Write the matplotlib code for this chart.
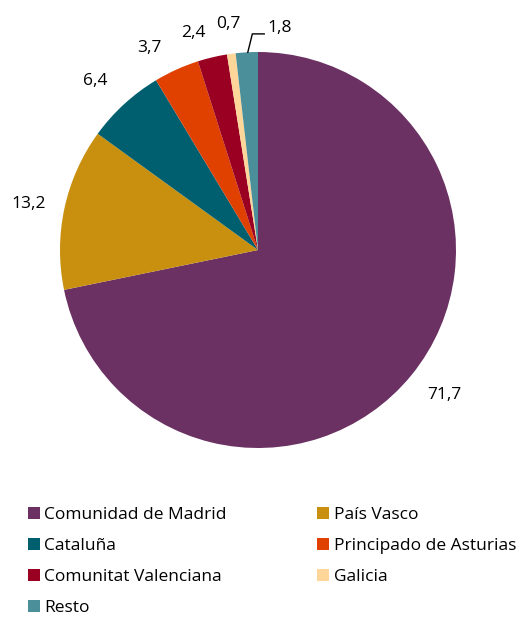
import numpy as np
import matplotlib.pyplot as plt
from matplotlib.patches import Patch

plt.rcParams['font.family'] = ['Open Sans', 'DejaVu Sans']

regiones = ['Comunidad de Madrid', 'País Vasco', 'Cataluña', 'Principado de Asturias',
            'Comunitat Valenciana', 'Galicia', 'Resto']
valores = [71.7, 13.2, 6.4, 3.7, 2.4, 0.7, 1.8]
colores = ['#6B3163', '#C8900E', '#005F6E', '#E04000', '#990022', '#FFD699', '#4A8F9A']
# desplazamiento de cada etiqueta (px) respecto al borde del sector
desplaz = [(33, -20), (-36, 4), (-29, 23), (-27, 22), (-19, 24), (-3, 30), (33, 24)]

fig = plt.figure(figsize=(5.22, 6.18), dpi=100)
ax = fig.add_axes([60 / 522, (618 - 250 - 198) / 618, 396 / 522, 396 / 618])

wedges, _ = ax.pie(valores, colors=colores, startangle=90, counterclock=False,
                   radius=1, wedgeprops=dict(linewidth=0))
ax.set_xlim(-1, 1)
ax.set_ylim(-1, 1)
ax.set_aspect('equal')
ax.axis('off')

for w, v, nombre, d in zip(wedges, valores, regiones, desplaz):
    ang = np.deg2rad((w.theta1 + w.theta2) / 2)
    x0, y0 = np.cos(ang), np.sin(ang)
    txt = f'{v:.1f}'.replace('.', ',')
    ax.annotate(txt, (x0, y0), xytext=d, textcoords='offset pixels',
                ha='center', va='center', fontsize=12.5, annotation_clip=False)
    if nombre == 'Resto':
        # línea guía hacia la etiqueta desplazada
        ax.plot([x0 + 0.005, x0 + 0.028, x0 + 0.088], [y0, y0 + 0.093, y0 + 0.093],
                color='black', lw=1, clip_on=False)

# leyenda en dos columnas, ordenada por filas
orden = [0, 2, 4, 6, 1, 3, 5]
handles = [Patch(facecolor=colores[i], edgecolor='none') for i in orden]
labels = [regiones[i] for i in orden]
fig.legend(handles, labels, ncol=2, frameon=False, loc='upper left',
           bbox_to_anchor=(28 / 522, 1 - 507 / 618), fontsize=12.5,
           borderpad=0, borderaxespad=0,
           handlelength=0.7, handleheight=0.7, handletextpad=0.25,
           columnspacing=5.2, labelspacing=0.86)

fig.savefig('out.png', dpi=100)
